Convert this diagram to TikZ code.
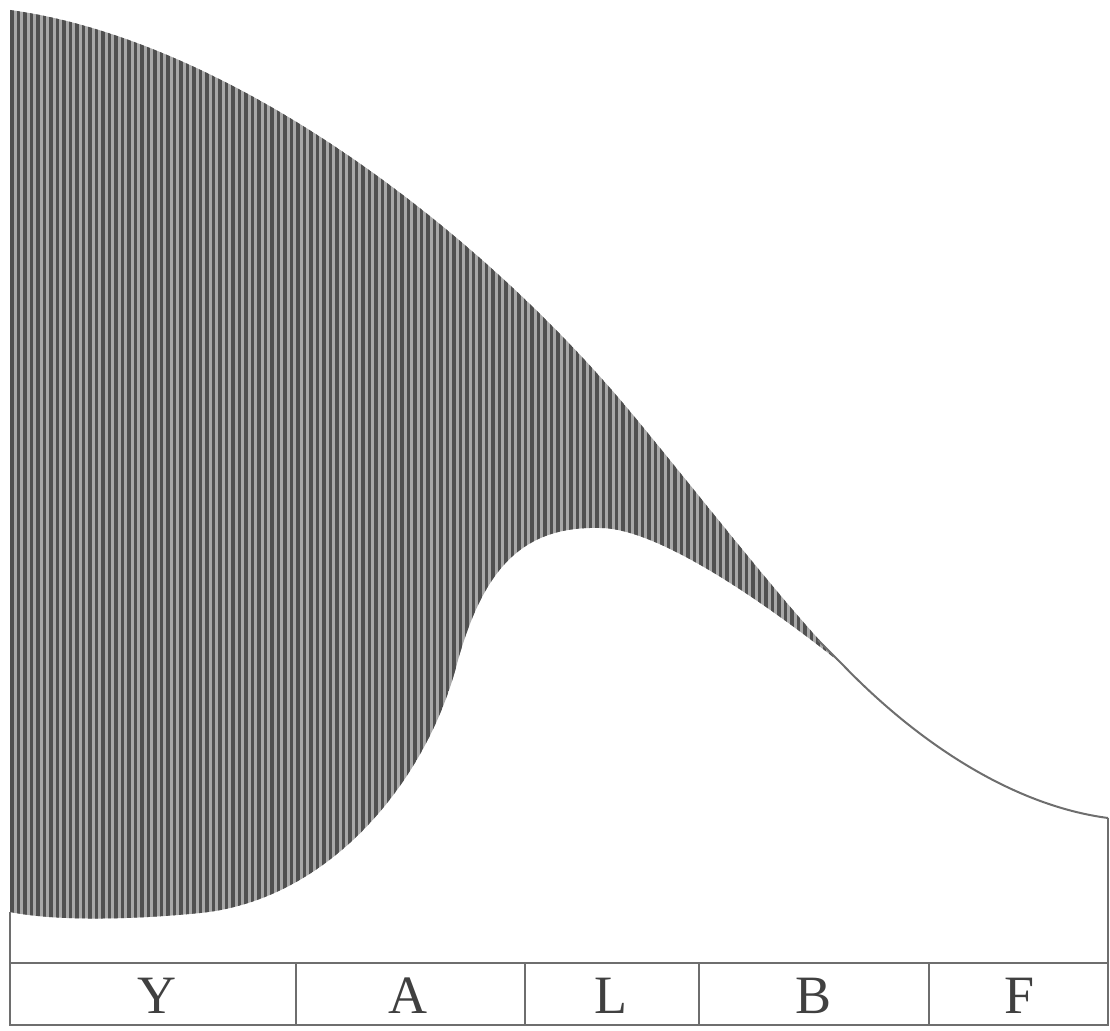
\documentclass[tikz,border=0pt]{standalone}
\usepackage{fontspec}
\setmainfont{Liberation Serif}
\definecolor{inkgray}{HTML}{6E6E6E}
\definecolor{bandlight}{HTML}{A8A8A8}
\definecolor{banddark}{HTML}{505050}
\begin{document}
\begin{tikzpicture}[x=1pt,y=-1pt,
  outline/.style={draw=inkgray,line width=2.6pt},
  stripe/.style={draw=banddark,line width=3.6pt},
  lbl/.style={font=\fontsize{54}{54}\selectfont,text=black!75,inner sep=0pt}]
\useasboundingbox (0,0) rectangle (1110,1030);
\coordinate (tl) at (10,10);
\coordinate (m1) at (633,415);
\coordinate (mg) at (842,664);
\coordinate (pre) at (818,640);
\coordinate (rt) at (1108,818);
\coordinate (bump) at (600,528);
\coordinate (inf) at (458,660);
\coordinate (bl) at (200,913);
\coordinate (lt) at (10,912);
% shaded region
\begin{scope}
  \clip (tl) .. controls (230,40) and (480,230) .. (m1)
     .. controls (700,496) and (790,612) .. (mg)
     .. controls (772,608) and (660,528) .. (bump)
     .. controls (525,526) and (485,565) .. (inf)
     .. controls (428,780) and (330,900) .. (bl)
     .. controls (140,919) and (60,922) .. (lt) -- cycle;
  \fill[bandlight] (0,0) rectangle (900,930);
  \foreach \x in {12,18.5,...,850} \draw[stripe] (\x,0) -- (\x,930);
\end{scope}
% tail of the curve
\draw[outline,line width=2pt] (pre) -- (mg) .. controls (915,740) and (1010,805) .. (rt);
% frame lines
\draw[outline] (lt) -- (10,963);
\draw[outline] (rt) -- (1108,963);
\draw[outline] (10,963) rectangle (1108,1025);
\foreach \x in {296,525,699,929} \draw[outline] (\x,963) -- (\x,1025);
\node[lbl] (y) at (157,996) {Y};
\node[lbl] (a) at (408,996) {A};
\node[lbl] (l) at (611,996) {L};
\node[lbl] (b) at (813,996) {B};
\node[lbl] (f) at (1020,996) {F};
\end{tikzpicture}
\end{document}
